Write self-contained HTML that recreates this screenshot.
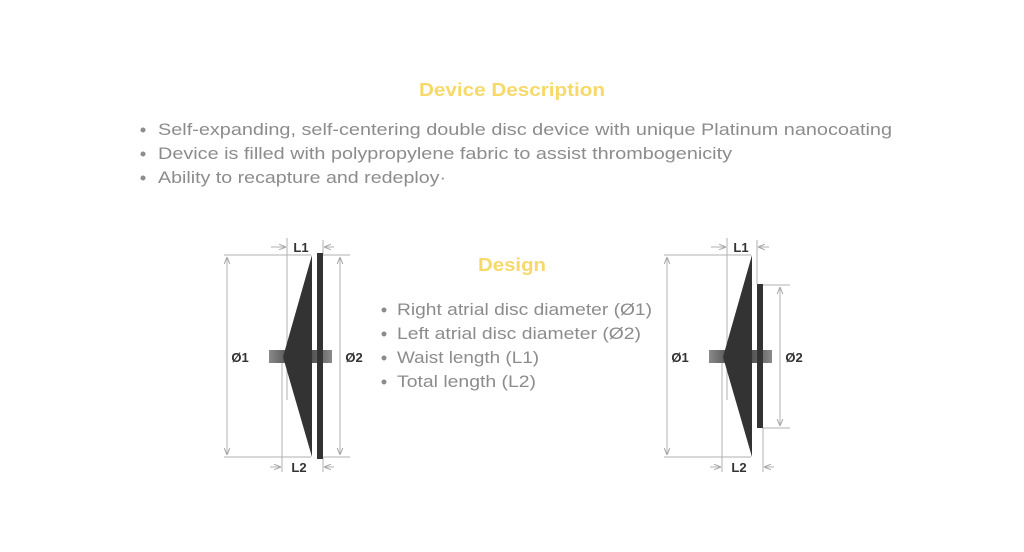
<!DOCTYPE html>
<html><head><style>html,body{margin:0;padding:0;background:#fff;}svg{display:block}</style></head>
<body>
<svg width="1024" height="552" viewBox="0 0 1024 552" xmlns="http://www.w3.org/2000/svg" font-family="Liberation Sans, sans-serif">
<defs>
<linearGradient id="hub" x1="0" x2="1" y1="0" y2="0">
<stop offset="0" stop-color="#8a8a8a"/><stop offset="0.3" stop-color="#555"/><stop offset="0.7" stop-color="#555"/><stop offset="1" stop-color="#8a8a8a"/>
</linearGradient>
<marker id="ar" viewBox="0 0 10 10" refX="10" refY="5" markerWidth="7" markerHeight="7" orient="auto-start-reverse"><path d="M0,1 L10,5 L0,9" fill="none" stroke="#aaa" stroke-width="1.5"/></marker>
</defs>
<text x="512" y="96" text-anchor="middle" font-size="18" font-weight="bold" fill="#f7d96a" textLength="186" lengthAdjust="spacingAndGlyphs">Device Description</text>
<g fill="#8c8c8c" font-size="17">
<circle cx="143" cy="130" r="2.5"/><text x="158" y="135" textLength="734" lengthAdjust="spacingAndGlyphs">Self-expanding, self-centering double disc device with unique Platinum nanocoating</text>
<circle cx="143" cy="154" r="2.5"/><text x="158" y="159" textLength="574" lengthAdjust="spacingAndGlyphs">Device is filled with polypropylene fabric to assist thrombogenicity</text>
<circle cx="143" cy="178" r="2.5"/><text x="158" y="183" textLength="288" lengthAdjust="spacingAndGlyphs">Ability to recapture and redeploy·</text>
</g>
<text x="512" y="271" text-anchor="middle" font-size="18" font-weight="bold" fill="#f7d96a" textLength="68" lengthAdjust="spacingAndGlyphs">Design</text>
<g fill="#8c8c8c" font-size="17">
<circle cx="384" cy="310" r="2.5"/><text x="397" y="315" textLength="255" lengthAdjust="spacingAndGlyphs">Right atrial disc diameter (Ø1)</text>
<circle cx="384" cy="334" r="2.5"/><text x="397" y="339" textLength="244" lengthAdjust="spacingAndGlyphs">Left atrial disc diameter (Ø2)</text>
<circle cx="384" cy="358" r="2.5"/><text x="397" y="363" textLength="142" lengthAdjust="spacingAndGlyphs">Waist length (L1)</text>
<circle cx="384" cy="382" r="2.5"/><text x="397" y="387" textLength="139" lengthAdjust="spacingAndGlyphs">Total length (L2)</text>
</g>

<!-- Left device -->
<g>
<g stroke="#b0b0b0" stroke-width="1" fill="none">
<line x1="287" y1="238" x2="287" y2="400"/>
<line x1="282" y1="360" x2="282" y2="472"/>
<line x1="323" y1="240" x2="323" y2="254"/>
<line x1="323" y1="458" x2="323" y2="472"/>
<line x1="224" y1="255" x2="311" y2="255"/>
<line x1="224" y1="457" x2="311" y2="457"/>
<line x1="323" y1="255" x2="350" y2="255"/>
<line x1="323" y1="457" x2="350" y2="457"/>
<line x1="227" y1="257" x2="227" y2="455" marker-start="url(#ar)" marker-end="url(#ar)"/>
<line x1="340" y1="257" x2="340" y2="455" marker-start="url(#ar)" marker-end="url(#ar)"/>
<line x1="271" y1="247" x2="286" y2="247" marker-end="url(#ar)"/>
<line x1="334" y1="247" x2="324" y2="247" marker-end="url(#ar)"/>
<line x1="270" y1="467" x2="281" y2="467" marker-end="url(#ar)"/>
<line x1="334" y1="467" x2="324" y2="467" marker-end="url(#ar)"/>
</g>
<rect x="269" y="350" width="63" height="13" fill="url(#hub)"/>
<polygon points="283,357 312,255 312,457" fill="#333"/>
<rect x="317" y="253" width="6" height="206" fill="#333"/>
<g font-size="13" font-weight="bold" fill="#333">
<text x="301" y="252" text-anchor="middle">L1</text>
<text x="299" y="472" text-anchor="middle">L2</text>
<text x="240" y="362" text-anchor="middle">Ø1</text>
<text x="354" y="362" text-anchor="middle">Ø2</text>
</g>
</g>

<!-- Right device -->
<g transform="translate(440,0)">
<g stroke="#b0b0b0" stroke-width="1" fill="none">
<line x1="287" y1="238" x2="287" y2="400"/>
<line x1="282" y1="360" x2="282" y2="472"/>
<line x1="317" y1="240" x2="317" y2="284"/>
<line x1="323" y1="428" x2="323" y2="472"/>
<line x1="224" y1="255" x2="311" y2="255"/>
<line x1="224" y1="457" x2="311" y2="457"/>
<line x1="323" y1="285" x2="350" y2="285"/>
<line x1="323" y1="428" x2="350" y2="428"/>
<line x1="227" y1="257" x2="227" y2="455" marker-start="url(#ar)" marker-end="url(#ar)"/>
<line x1="340" y1="287" x2="340" y2="426" marker-start="url(#ar)" marker-end="url(#ar)"/>
<line x1="271" y1="247" x2="286" y2="247" marker-end="url(#ar)"/>
<line x1="329" y1="247" x2="318" y2="247" marker-end="url(#ar)"/>
<line x1="270" y1="467" x2="281" y2="467" marker-end="url(#ar)"/>
<line x1="334" y1="467" x2="324" y2="467" marker-end="url(#ar)"/>
</g>
<rect x="269" y="350" width="63" height="13" fill="url(#hub)"/>
<polygon points="283,357 312,255 312,457" fill="#333"/>
<rect x="317" y="284" width="6" height="144" fill="#333"/>
<g font-size="13" font-weight="bold" fill="#333">
<text x="301" y="252" text-anchor="middle">L1</text>
<text x="299" y="472" text-anchor="middle">L2</text>
<text x="240" y="362" text-anchor="middle">Ø1</text>
<text x="354" y="362" text-anchor="middle">Ø2</text>
</g>
</g>
</svg>
</body></html>
